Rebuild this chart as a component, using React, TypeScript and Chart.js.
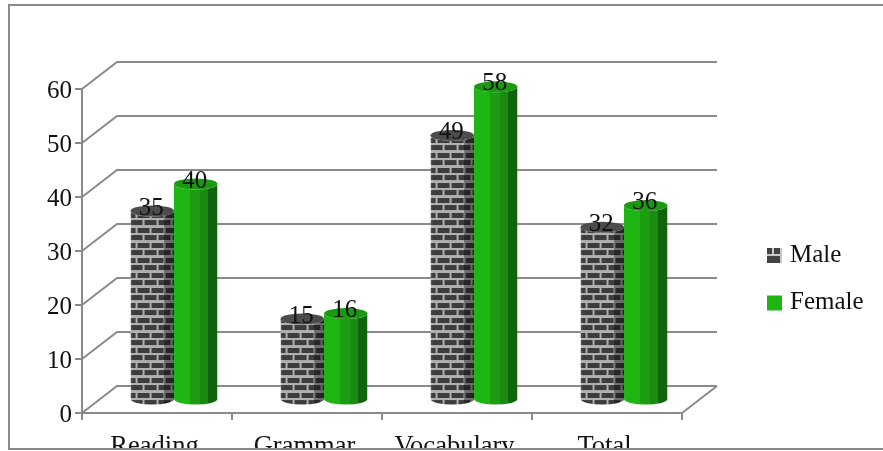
import React, { useEffect, useRef } from "react";
import { Chart, registerables } from "chart.js";

Chart.register(...registerables);

const categories = ["Reading", "Grammar", "Vocabulary", "Total"];
const maleValues = [35, 15, 49, 32];
const femaleValues = [40, 16, 58, 36];
const seriesNames = ["Male", "Female"];

const FONT = "Liberation Serif";
const LINE = "#8a8a8a";
const DEPTH_X = 35;
const DEPTH_Y = 27;
const RY = 5.5;

function brickPattern(ctx: CanvasRenderingContext2D): CanvasPattern {
  const c = document.createElement("canvas");
  c.width = 28;
  c.height = 15;
  const p = c.getContext("2d")!;
  p.fillStyle = "#b0b0b0";
  p.fillRect(0, 0, 28, 15);
  p.fillStyle = "#3c3c3c";
  p.fillRect(0, 1, 12, 5);
  p.fillRect(14, 1, 12, 5);
  p.fillRect(0, 9, 5, 5);
  p.fillRect(7, 9, 12, 5);
  p.fillRect(21, 9, 7, 5);
  return ctx.createPattern(c, "repeat")!;
}

function drawKeyBrick(ctx: CanvasRenderingContext2D, x: number, y: number) {
  ctx.fillStyle = "#c8c8c8";
  ctx.fillRect(x, y, 15, 15);
  ctx.fillStyle = "#424242";
  ctx.fillRect(x, y, 5, 6);
  ctx.fillRect(x + 7, y, 6, 6);
  ctx.fillRect(x, y + 8, 13, 7);
}

function cylinderPath(ctx: CanvasRenderingContext2D, x0: number, x1: number, top: number, base: number) {
  const cx = (x0 + x1) / 2;
  const rx = (x1 - x0) / 2;
  ctx.beginPath();
  ctx.moveTo(x0, top);
  ctx.lineTo(x0, base);
  ctx.ellipse(cx, base, rx, RY, 0, Math.PI, 0, true);
  ctx.lineTo(x1, top);
  ctx.ellipse(cx, top, rx, RY, 0, 0, Math.PI, false);
  ctx.closePath();
}

const walls = {
  id: "walls",
  beforeDraw(chart: any) {
    const { scales, chartArea } = chart;
    if (chart.$labelsShifted) return;
    scales.y.getLabelItems(chartArea).forEach((it: any) => { it.options.translation[1] += 2; });
    scales.x.getLabelItems(chartArea).forEach((it: any) => { it.options.translation[0] -= 2.5; });
    chart.$labelsShifted = true;
  },
  beforeDatasetsDraw(chart: any) {
    const { ctx, chartArea: a, scales } = chart;
    ctx.save();
    ctx.strokeStyle = LINE;
    ctx.lineWidth = 2;
    ctx.beginPath();
    for (const t of scales.y.ticks) {
      const y = scales.y.getPixelForValue(t.value);
      ctx.moveTo(a.left, y);
      ctx.lineTo(a.left + DEPTH_X, y - DEPTH_Y);
      ctx.lineTo(a.right + DEPTH_X, y - DEPTH_Y);
    }
    ctx.moveTo(a.right, a.bottom);
    ctx.lineTo(a.right + DEPTH_X, a.bottom - DEPTH_Y);
    ctx.stroke();
    ctx.restore();
  },
};

const cylinders = {
  id: "cylinders",
  beforeDatasetDraw() {
    return false;
  },
  afterDatasetsDraw(chart: any) {
    const { ctx } = chart;
    const dx = DEPTH_X / 2 - 0.5;
    const dy = -13;
    chart.data.datasets.forEach((ds: any, di: number) => {
      const meta = chart.getDatasetMeta(di);
      meta.data.forEach((bar: any) => {
        const x0 = bar.x - bar.width / 2 + dx;
        const x1 = bar.x + bar.width / 2 + dx;
        const top = bar.y + dy;
        const base = bar.base + dy;
        const w = x1 - x0;
        ctx.save();
        cylinderPath(ctx, x0, x1, top, base);
        ctx.clip();
        if (di === 0) {
          ctx.translate(x0, base);
          ctx.fillStyle = ds.backgroundColor;
          ctx.fillRect(0, top - base - RY - 1, w, base - top + 2 * RY + 2);
          ctx.translate(-x0, -base);
          const g = ctx.createLinearGradient(x0, 0, x1, 0);
          g.addColorStop(0, "rgba(255,255,255,0.16)");
          g.addColorStop(0.06, "rgba(255,255,255,0)");
          g.addColorStop(0.76, "rgba(0,0,0,0)");
          g.addColorStop(0.78, "rgba(0,0,0,0.34)");
          g.addColorStop(1, "rgba(0,0,0,0.42)");
          ctx.fillStyle = g;
          ctx.fillRect(x0, top - RY - 1, w, base - top + 2 * RY + 2);
        } else {
          const bands: [number, string][] = [
            [0, "#1fb512"],
            [0.37, "#1c9c11"],
            [0.6, "#1a8a10"],
            [0.78, "#10650c"],
          ];
          const g = ctx.createLinearGradient(x0, 0, x1, 0);
          bands.forEach(([s, col], i) => {
            g.addColorStop(s, col);
            g.addColorStop(i + 1 < bands.length ? bands[i + 1][0] : 1, col);
          });
          ctx.fillStyle = g;
          ctx.fillRect(x0, top - RY - 1, w, base - top + 2 * RY + 2);
        }
        ctx.restore();
        ctx.save();
        ctx.beginPath();
        ctx.ellipse((x0 + x1) / 2, top, w / 2, RY, 0, 0, Math.PI * 2);
        ctx.fillStyle = di === 0 ? "#4c4c4c" : "#1a9a10";
        ctx.fill();
        ctx.restore();
      });
    });
    chart.data.datasets.forEach((ds: any, di: number) => {
      chart.getDatasetMeta(di).data.forEach((bar: any, i: number) => {
        ctx.save();
        ctx.font = `25px "${FONT}"`;
        ctx.fillStyle = "#111111";
        ctx.textAlign = "center";
        ctx.textBaseline = "middle";
        ctx.fillText(String(ds.data[i]), bar.x + dx - 1, bar.y + dy - 3);
        ctx.restore();
      });
    });
  },
};

const frameAndKey = {
  id: "frameAndKey",
  afterDraw(chart: any) {
    const { ctx, width, height } = chart;
    ctx.save();
    ctx.fillStyle = "#ffffff";
    ctx.fillRect(0, 449, width, height - 449);
    ctx.strokeStyle = LINE;
    ctx.lineWidth = 2;
    ctx.beginPath();
    ctx.moveTo(width, 5);
    ctx.lineTo(9, 5);
    ctx.lineTo(9, 449);
    ctx.lineTo(width, 449);
    ctx.stroke();

    chart.data.datasets.forEach((ds: any, di: number) => {
      const y = 248 + di * 47.5;
      if (di === 0) {
        drawKeyBrick(ctx, 767, y);
      } else {
        ctx.fillStyle = ds.backgroundColor;
        ctx.fillRect(767, y, 15, 15);
      }
      ctx.font = `25px "${FONT}"`;
      ctx.fillStyle = "#111111";
      ctx.textAlign = "left";
      ctx.textBaseline = "middle";
      ctx.fillText(ds.label, 790, y + 7);
    });
    ctx.restore();
  },
};

export default function App() {
  const ref = useRef<HTMLCanvasElement>(null);
  useEffect(() => {
    const canvas = ref.current!;
    const ctx = canvas.getContext("2d")!;
    const chart = new Chart(canvas, {
      type: "bar",
      data: {
        labels: categories,
        datasets: [
          { label: seriesNames[0], data: maleValues, backgroundColor: brickPattern(ctx) as any },
          { label: seriesNames[1], data: femaleValues, backgroundColor: "#1fb512" },
        ],
      },
      plugins: [walls, cylinders, frameAndKey] as any,
      options: {
        animation: false,
        responsive: false,
        devicePixelRatio: 1,
        layout: { autoPadding: false, padding: { left: 0, top: 89, right: 201, bottom: 0 } },
        datasets: { bar: { categoryPercentage: 0.58, barPercentage: 1 } },
        plugins: { legend: { display: false }, tooltip: { enabled: false }, title: { display: false } },
        scales: {
          x: {
            afterFit: (s: any) => { s.height = 38; },
            border: { color: LINE, width: 2 },
            grid: { drawOnChartArea: false, drawTicks: true, tickLength: 7, color: LINE, lineWidth: 2 },
            ticks: { color: "#111111", font: { family: FONT, size: 26.5 }, padding: 11, maxRotation: 0, autoSkip: false },
          },
          y: {
            min: 0,
            max: 60,
            afterFit: (s: any) => { s.width = 82; },
            border: { color: LINE, width: 2 },
            grid: { drawOnChartArea: false, drawTicks: true, tickLength: 7, color: LINE, lineWidth: 2 },
            ticks: { stepSize: 10, color: "#111111", font: { family: FONT, size: 25 }, padding: 3 },
          },
        },
      },
    } as any);
    return () => chart.destroy();
  }, []);
  return (
    <div style={{ position: "absolute", left: 0, top: 0, background: "#fff" }}>
      <canvas ref={ref} width={883} height={451} style={{ display: "block", width: 883, height: 451 }} />
    </div>
  );
}
